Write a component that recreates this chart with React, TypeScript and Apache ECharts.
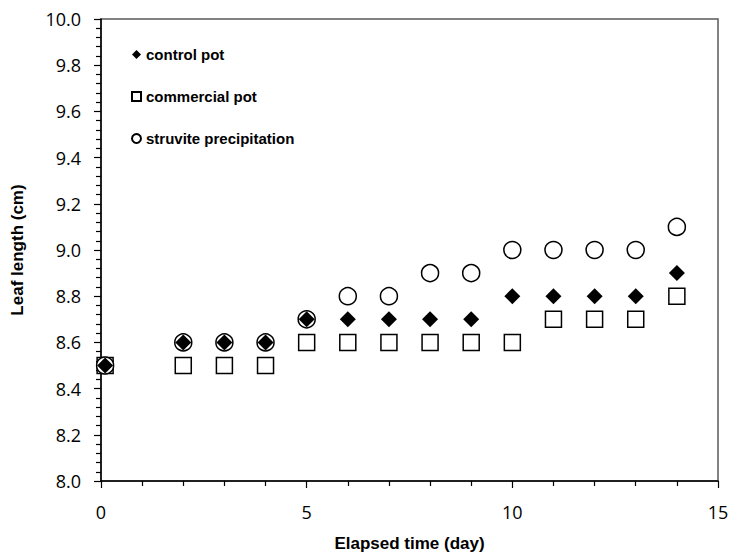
import React, { useEffect, useRef } from "react";
import * as echarts from "echarts";

const days = [0.1, 2, 3, 4, 5, 6, 7, 8, 9, 10, 11, 12, 13, 14];
const controlPot = [8.5, 8.6, 8.6, 8.6, 8.7, 8.7, 8.7, 8.7, 8.7, 8.8, 8.8, 8.8, 8.8, 8.9];
const commercialPot = [8.5, 8.5, 8.5, 8.5, 8.6, 8.6, 8.6, 8.6, 8.6, 8.6, 8.7, 8.7, 8.7, 8.8];
const struvite = [8.5, 8.6, 8.6, 8.6, 8.7, 8.8, 8.8, 8.9, 8.9, 9.0, 9.0, 9.0, 9.0, 9.1];
const seriesNames = ["control pot", "commercial pot", "struvite precipitation"];

const pair = (ys: number[]) => days.map((d, i) => [d, ys[i]]);

export default function App() {
  const ref = useRef<HTMLDivElement>(null);
  useEffect(() => {
    if (!ref.current) return;
    const chart = echarts.init(ref.current, null, { renderer: "svg" });
    const tickFont = { fontFamily: "Open Sans", fontSize: 18, color: "#000" };
    const nameFont = { fontFamily: "Liberation Sans", fontSize: 17, fontWeight: "bold" as const, color: "#000" };
    chart.setOption({
      animation: false,
      backgroundColor: "#fff",
      grid: {
        left: 101,
        top: 19,
        right: 14,
        bottom: 73,
        show: true,
        borderColor: "#595959",
        borderWidth: 1.5,
        backgroundColor: "transparent",
      },
      legend: {
        orient: "vertical",
        left: 131,
        top: 47,
        padding: 0,
        itemGap: 27,
        itemWidth: 9,
        itemHeight: 9,
        data: seriesNames,
        textStyle: { fontFamily: "Liberation Sans", fontSize: 15, fontWeight: "bold", color: "#000" },
      },
      xAxis: {
        type: "value",
        min: 0,
        max: 15,
        interval: 5,
        name: "Elapsed time (day)",
        nameLocation: "middle",
        nameGap: 54,
        nameTextStyle: nameFont,
        splitLine: { show: false },
        axisLine: { lineStyle: { color: "#000", width: 1.5 } },
        axisTick: { inside: false, length: 7, lineStyle: { color: "#000", width: 1.2 } },
        minorTick: { show: true, splitNumber: 5, length: 5, lineStyle: { color: "#000", width: 1.2 } },
        axisLabel: { ...tickFont, margin: 22 },
      },
      yAxis: {
        type: "value",
        min: 8.0,
        max: 10.0,
        interval: 0.2,
        name: "Leaf length (cm)",
        nameLocation: "middle",
        nameGap: 75,
        nameTextStyle: nameFont,
        splitLine: { show: false },
        axisLine: { lineStyle: { color: "#000", width: 1.5 } },
        axisTick: { inside: false, length: 7, lineStyle: { color: "#000", width: 1.2 } },
        minorTick: { show: true, splitNumber: 5, length: 5, lineStyle: { color: "#000", width: 1.2 } },
        axisLabel: { ...tickFont, margin: 20, formatter: (v: number) => v.toFixed(1) },
      },
      series: [
        {
          name: "commercial pot",
          type: "scatter",
          symbol: "rect",
          symbolSize: 16,
          data: pair(commercialPot),
          itemStyle: { color: "#fff", borderColor: "#000", borderWidth: 1.5, opacity: 1 },
          z: 2,
        },
        {
          name: "struvite precipitation",
          type: "scatter",
          symbol: "circle",
          symbolSize: 17,
          data: pair(struvite),
          itemStyle: { color: "#fff", borderColor: "#000", borderWidth: 1.5, opacity: 1 },
          z: 3,
        },
        {
          name: "control pot",
          type: "scatter",
          symbol: "diamond",
          symbolSize: 16,
          data: pair(controlPot),
          itemStyle: { color: "#000", borderColor: "#000", borderWidth: 0, opacity: 1 },
          z: 4,
        },
      ],
    });
    return () => chart.dispose();
  }, []);
  return (
    <div
      ref={ref}
      style={{ position: "absolute", left: 0, top: 0, width: 732, height: 557 }}
    />
  );
}
